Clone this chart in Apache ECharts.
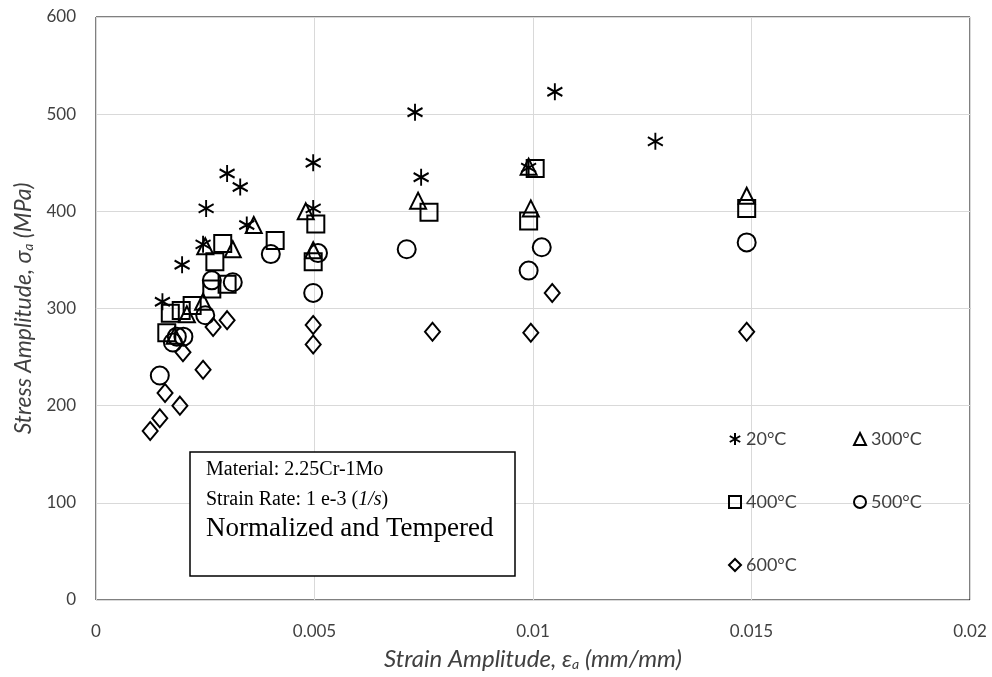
<!DOCTYPE html>
<html>
<head>
<meta charset="utf-8">
<script src="https://cdn.jsdelivr.net/npm/echarts@6/dist/echarts.min.js"></script>
<style>html,body{margin:0;padding:0;background:#fff}#c{width:992px;height:677px}</style>
</head>
<body>
<div id="c"></div>
<script>
// Data: [strain amplitude (mm/mm), stress amplitude (MPa)]
var seriesNames = ['20°C', '300°C', '400°C', '500°C', '600°C'];
var data20 = [[0.00152,307],[0.00197,345],[0.00245,366],[0.00252,403],[0.0030,439],[0.0033,425],[0.00345,386],[0.00497,450],[0.00497,403],[0.0073,502],[0.00744,435],[0.0099,445],[0.0105,523],[0.0128,472]];
var data300 = [[0.0018,272],[0.00208,294],[0.00245,307],[0.0025,364],[0.00313,361],[0.00361,386],[0.0048,400],[0.00497,360],[0.00737,411],[0.0099,446],[0.00995,403],[0.01489,416]];
var data400 = [[0.00162,275],[0.0017,295],[0.00195,298],[0.0022,303],[0.00265,320],[0.00272,348],[0.0029,367],[0.0030,325],[0.0041,370],[0.00497,348],[0.00503,387],[0.00762,399],[0.0099,390],[0.01005,444],[0.01489,403]];
var data500 = [[0.00146,231],[0.00176,265],[0.00185,271],[0.0020,271],[0.0025,293],[0.00265,329],[0.00313,327],[0.0040,356],[0.00508,357],[0.00497,316],[0.00711,361],[0.0099,339],[0.0102,363],[0.01489,368]];
var data600 = [[0.00124,174],[0.00146,187],[0.00158,213],[0.00192,200],[0.00199,255],[0.00245,237],[0.00268,281],[0.0030,288],[0.00497,283],[0.00497,263],[0.0077,276],[0.00995,275],[0.01044,316],[0.01489,276]];
var xTicks = [0, 0.005, 0.01, 0.015, 0.02];
var yTicks = [0, 100, 200, 300, 400, 500, 600];

var asterisk = 'path://M0,-1L0,1M-0.87,-0.5L0.87,0.5M-0.87,0.5L0.87,-0.5';
var symbols = [asterisk, 'triangle', 'rect', 'circle', 'diamond'];
var sizes = [[15,17], 16, 17, 18, [15,18]];
var datas = [data20, data300, data400, data500, data600];

var chart = echarts.init(document.getElementById('c'));
var tickFont = {fontFamily: 'Lato', fontSize: 17, color: '#404040'};
var series = seriesNames.map(function (n, i) {
  return {
    name: n, type: 'scatter', data: datas[i], symbol: symbols[i], symbolSize: sizes[i],
    itemStyle: {color: 'rgba(0,0,0,0)', borderColor: '#000', borderWidth: 2, opacity: 1},
    emphasis: {disabled: true}
  };
});
var legendCommon = {
  orient: 'vertical', itemWidth: 12, itemHeight: 12, itemGap: 45,
  textStyle: {fontFamily: 'Lato', fontSize: 18, color: '#404040'},
  itemStyle: {borderWidth: 2}
};
var subRich = {sub: {fontFamily: 'Lato', fontStyle: 'italic', fontSize: 14, color: '#404040', verticalAlign: 'bottom', padding: [9, 0, 0, 0]}};
chart.setOption({
  animation: false,
  backgroundColor: '#fff',
  grid: {left: 96, right: 22, top: 17, bottom: 77, show: true, borderColor: '#000', borderWidth: 1},
  xAxis: {
    type: 'value', min: xTicks[0], max: xTicks[xTicks.length - 1], interval: 0.005,
    axisLine: {show: false}, axisTick: {show: false},
    splitLine: {show: true, lineStyle: {color: '#d9d9d9', width: 1}},
    axisLabel: Object.assign({margin: 23, formatter: function (v) { return String(v); }}, tickFont),
    name: 'Strain Amplitude, ε{sub|a} (mm/mm)', nameLocation: 'middle', nameGap: 47,
    nameTextStyle: {fontFamily: 'Lato', fontStyle: 'italic', fontSize: 24, color: '#404040', rich: subRich}
  },
  yAxis: {
    type: 'value', min: yTicks[0], max: yTicks[yTicks.length - 1], interval: 100,
    axisLine: {show: false}, axisTick: {show: false},
    splitLine: {show: true, lineStyle: {color: '#d9d9d9', width: 1}},
    axisLabel: Object.assign({margin: 20}, tickFont),
    name: 'Stress Amplitude, σ{sub|a} (MPa)', nameLocation: 'middle', nameGap: 60,
    nameTextStyle: {fontFamily: 'Lato', fontStyle: 'italic', fontSize: 23, color: '#404040', rich: subRich}
  },
  legend: [
    Object.assign({data: ['20°C', '400°C', '600°C'], left: 723, top: 425}, legendCommon),
    Object.assign({data: ['300°C', '500°C'], left: 848, top: 425}, legendCommon)
  ],
  graphic: [
    {type: 'rect', shape: {x: 190, y: 452, width: 325, height: 124}, style: {fill: '#fff', stroke: '#000', lineWidth: 1.5}, z: 100},
    {type: 'text', x: 206, y: 460, z: 101, style: {text: 'Material: 2.25Cr-1Mo', font: '20px "Liberation Serif"', fill: '#000'}},
    {type: 'text', x: 206, y: 490, z: 101, style: {
      text: 'Strain Rate: 1 e-3 ({it|1/s})', font: '20px "Liberation Serif"', fill: '#000',
      rich: {it: {fontFamily: 'Liberation Serif', fontStyle: 'italic', fontSize: 20, fill: '#000'}}}},
    {type: 'text', x: 206, y: 515, z: 101, style: {text: 'Normalized and Tempered', font: '27px "Liberation Serif"', fill: '#000'}}
  ],
  series: series
});
</script>
</body>
</html>
